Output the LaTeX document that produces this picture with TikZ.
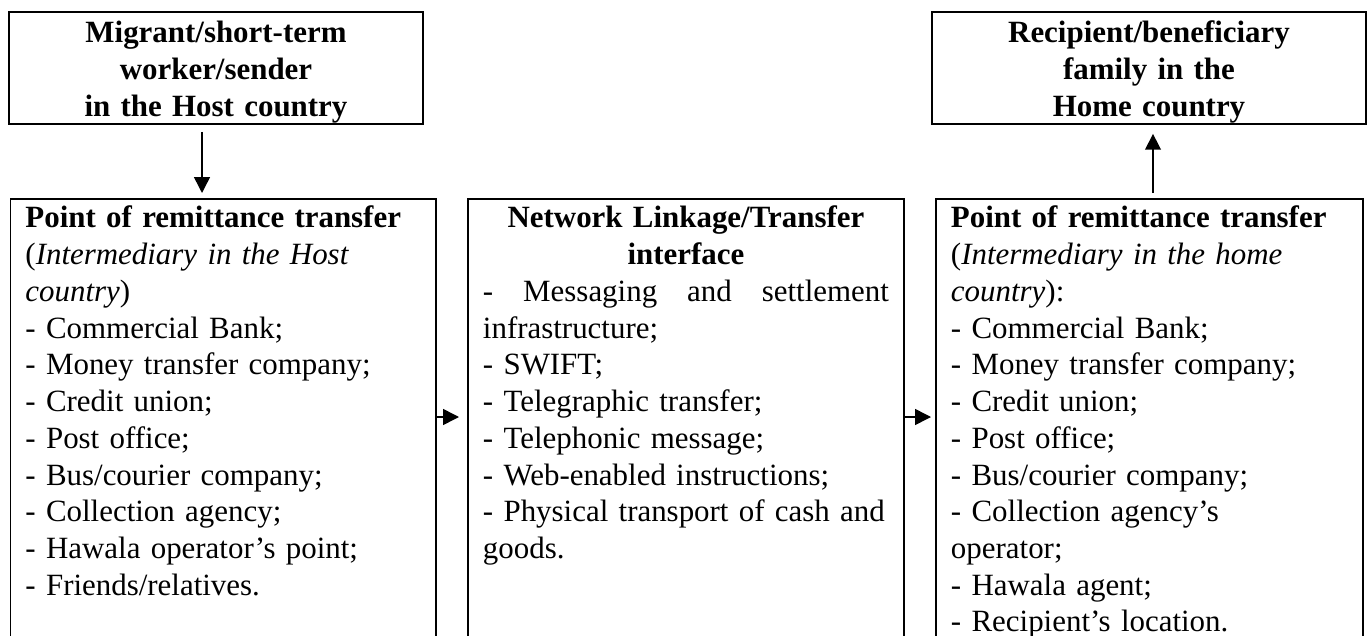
\documentclass[tikz,border=0pt]{standalone}
\usepackage{fontspec}
\setmainfont{Liberation Serif}
\usetikzlibrary{arrows.meta,positioning}
\tikzset{>={Triangle[length=9pt,width=9pt]}}
\newcommand\boxfont{\fontsize{17.6pt}{20.9pt}\selectfont}
\tikzset{
  party/.style={draw,line width=1.1pt,anchor=north,align=center,inner xsep=0pt,inner ysep=0pt,
    text height=0.62cm,text depth=1.62cm,font=\boxfont\bfseries},
  column/.style={draw,line width=1.1pt,anchor=north west,align=left,inner xsep=0.3cm,inner ysep=0pt,
    text height=0.58cm,text depth=9cm,font=\boxfont},
  flow/.style={line width=0.85pt,->}
}

\begin{document}
\begin{tikzpicture}[x=0.02cm,y=-0.02cm]
    \useasboundingbox (0,0) rectangle (1371,635);

    \node [party,text width=8.27cm] (sender) at (216,11) {Migrant/short-term\\ worker/sender\\ in the Host country};
    \node [party,text width=8.68cm] (family) at (1149,11) {Recipient/beneficiary\\ family in the\\ Home country};

    \node [column,text width=7.91cm] (hostpt) at (9.5,198) {\textbf{Point of remittance transfer}\\
      (\textit{Intermediary in the Host}\\ \textit{country})\\
      - Commercial Bank;\\ - Money transfer company;\\ - Credit union;\\ - Post office;\\
      - Bus/courier company;\\ - Collection agency;\\ - Hawala operator’s point;\\ - Friends/relatives.};
    \node [column,text width=8.12cm] (linkage) at (467,198) {\makebox[\linewidth]{\bfseries Network Linkage/Transfer}\\
      \makebox[\linewidth]{\bfseries interface}\\
      \makebox[\linewidth][s]{-\hfill Messaging\hfill and\hfill settlement}\\ infrastructure;\\
      - SWIFT;\\ - Telegraphic transfer;\\ - Telephonic message;\\ - Web-enabled instructions;\\
      - Physical transport of cash and\\ goods.};
    \node [column,text width=7.94cm] (homept) at (935,198) {\textbf{Point of remittance transfer}\\
      (\textit{Intermediary in the home}\\ \textit{country}):\\
      - Commercial Bank;\\ - Money transfer company;\\ - Credit union;\\ - Post office;\\
      - Bus/courier company;\\ - Collection agency’s\\ operator;\\ - Hawala agent;\\ - Recipient’s location.};

    \coordinate (sendx) at (202,0);
    \coordinate (homex) at (1153,0);
    \coordinate (rowy) at (0,417);

    \draw [flow,shorten <=0.14cm,shorten >=0.1cm] (sender.south -| sendx) -- (hostpt.north -| sendx);
    \draw [flow,shorten >=0.16cm] (hostpt.east |- rowy) -- (linkage.west |- rowy);
    \draw [flow,shorten >=0.08cm] (linkage.east |- rowy) -- (homept.west |- rowy);
    \draw [flow,shorten <=0.1cm,shorten >=0.18cm] (homept.north -| homex) -- (family.south -| homex);
\end{tikzpicture}
\end{document}
